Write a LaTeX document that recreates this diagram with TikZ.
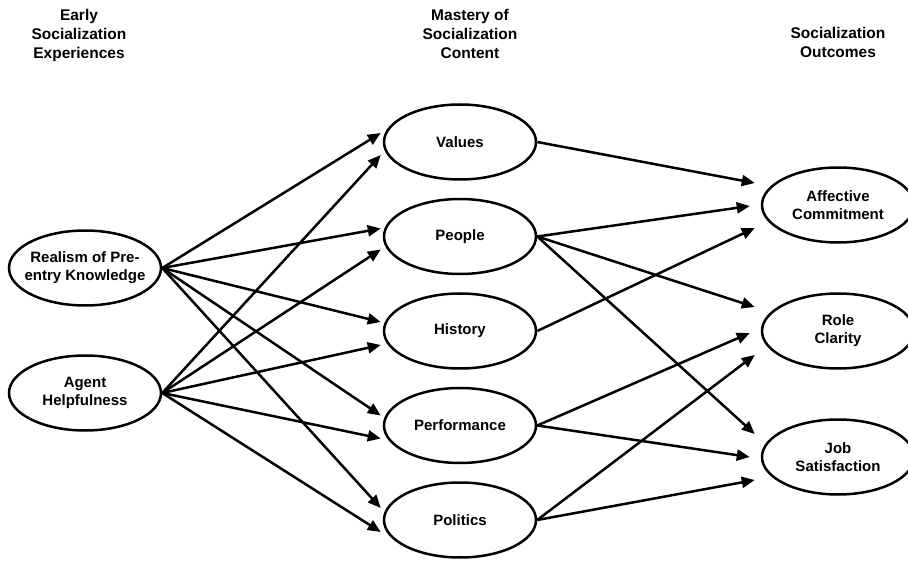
\documentclass[tikz,border=0pt]{standalone}
\usepackage{fontspec}
\setmainfont{Liberation Sans}
\usetikzlibrary{arrows.meta,positioning,shapes.geometric}

\begin{document}
\begin{tikzpicture}[x=1pt, y=-1pt, every node/.style={font=\bfseries\fontsize{15}{18}\selectfont}, construct/.style={draw, ellipse, line width=2.5pt, align=center, inner xsep=-12pt, inner ysep=0pt, minimum width=152pt, minimum height=75pt}, heading/.style={align=center, font=\bfseries\fontsize{15.5}{19}\selectfont}, arr/.style={-{Triangle[length=13pt,width=11pt]}, line width=2.5pt}]
\useasboundingbox (0,0) rectangle (908,561);
% column headings
\node[heading] (hdearly) at (79,35) {Early\\Socialization\\Experiences};
\node[heading] (hdmastery) at (470,34) {Mastery of\\Socialization\\Content};
\node[heading] (hdoutcome) at (838,42) {Socialization\\Outcomes};
% early experiences
\node[construct] (realism) at (85,268) {Realism of Pre-\\entry Knowledge};
\node[construct, below=47.5pt of realism] (agent) {Agent\\Helpfulness};
% content mastery
\node[construct] (values) at (460,142) {Values};
\node[construct, below=17pt of values] (people) {People};
\node[construct, below=17pt of people] (history) {History};
\node[construct, below=17pt of history] (perform) {Performance};
\node[construct, below=17pt of perform] (politics) {Politics};
% outcomes
\node[construct] (affect) at (838,205) {Affective\\Commitment};
\node[construct, below=48.5pt of affect] (role) {Role\\Clarity};
\node[construct, below=48.5pt of role] (jobsat) {Job\\Satisfaction};
% experiences -> content
\draw[arr] (realism.east) -- ([xshift=-2pt,yshift=9pt]values.west); \draw[arr] (agent.east) -- ([xshift=-2pt,yshift=-13pt]values.west);
\draw[arr] (realism.east) -- ([xshift=-2pt,yshift=8pt]people.west); \draw[arr] (agent.east) -- ([xshift=-2pt,yshift=-13pt]people.west);
\draw[arr] (realism.east) -- ([xshift=-2pt,yshift=9pt]history.west); \draw[arr] (agent.east) -- ([xshift=-2pt,yshift=-14pt]history.west);
\draw[arr] (realism.east) -- ([xshift=-2pt,yshift=10pt]perform.west); \draw[arr] (agent.east) -- ([xshift=-2pt,yshift=-13pt]perform.west);
\draw[arr] (realism.east) -- ([xshift=-2pt,yshift=12pt]politics.west); \draw[arr] (agent.east) -- ([xshift=-2pt,yshift=-12pt]politics.west);
% content -> outcomes
\draw[arr] (values.east) -- ([xshift=-6pt,yshift=22pt]affect.west); \draw[arr] (people.east) -- ([xshift=-11pt,yshift=-1pt]affect.west); \draw[arr] (history.east) -- ([xshift=-6pt,yshift=-23pt]affect.west);
\draw[arr] (people.east) -- ([xshift=-6pt,yshift=24pt]role.west); \draw[arr] (perform.east) -- ([xshift=-11pt,yshift=-2pt]role.west); \draw[arr] (politics.east) -- ([xshift=-6pt,yshift=-24pt]role.west);
\draw[arr] (people.east) -- ([xshift=-6pt,yshift=23pt]jobsat.west); \draw[arr] (perform.east) -- ([xshift=-11pt,yshift=0pt]jobsat.west); \draw[arr] (politics.east) -- ([xshift=-6pt,yshift=-23pt]jobsat.west);
\end{tikzpicture}
\end{document}
